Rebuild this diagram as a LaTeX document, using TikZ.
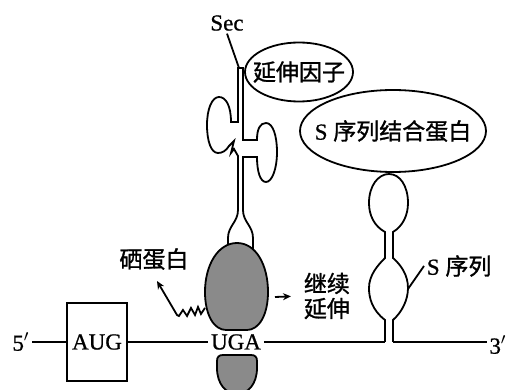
\documentclass[tikz,border=0pt]{standalone}
\usepackage{fontspec}
\setmainfont{Liberation Serif}[RawFeature={embolden=0.8}]
\newfontfamily\cjk{Noto Sans CJK SC}[RawFeature={embolden=1.2}]
\usetikzlibrary{arrows.meta,shapes.geometric,calc}

\begin{document}
\begin{tikzpicture}[
  x=0.5pt,y=-0.5pt,
  font=\fontsize{11.5}{12.5}\selectfont,
  line width=0.9pt,
  >={Stealth[length=4pt,width=3.5pt]},
  lab/.style={inner sep=1pt,align=center},
  cn/.style={lab,font=\fontsize{11.5}{12.5}\selectfont\cjk},
  codon/.style={draw,minimum width=30pt,minimum height=39pt,inner sep=0pt},
  ribo/.style={draw,fill=black!46},
]
\useasboundingbox (0,0) rectangle (511,390);
% mRNA, 5' to 3'
\node[lab]   (five)  at (21,342)  {5$'$};
\node[codon] (aug)   at (97,342)  {AUG};
\node[lab]   (uga)   at (236,342) {UGA};
\node[lab]   (three) at (498,345) {3$'$};
\coordinate (sl) at (385,342);
\coordinate (sr) at (393,342);
\draw (five) -- (aug);
\draw (aug) -- (uga);
\draw (uga.east) -- (sl);
\draw (sr) -- (three.west |- sr);
% Sec-tRNA: stem with the two side loops, flaring into the ribosome
\coordinate (stemtop) at (239,68);
\draw (228,256) -- (228,238) .. controls (228,226) and (238,222) .. (238,210)
  -- (238,156) -- (234,149) -- (231,153) -- (234,141) -- (229,146)
  .. controls (226,151) and (222,153) .. (218,153)
  .. controls (211,153) and (207,141) .. (207,125)
  .. controls (207,109) and (212,97) .. (219,97)
  .. controls (226,97) and (231,106) .. (231,122)
  -- (238,122) -- (238,68) -- (243,68) -- (243,140) -- (257,140)
  .. controls (257,129) and (260,123) .. (266,123)
  .. controls (273,123) and (277,136) .. (277,152)
  .. controls (277,169) and (272,182) .. (266,182)
  .. controls (260,182) and (257,171) .. (257,157)
  -- (243,157) -- (243,210)
  .. controls (243,222) and (253,226) .. (253,238) -- (253,256);
\node[lab] (sec) at (227,23) {Sec};
\draw (sec.south) -- (stemtop);
% proteins: text nodes with their ovals drawn round them
\node[cn] (ef) at (299,72) {延伸因子};
\draw (ef.center) ellipse [x radius=54, y radius=29.5];
\node[lab] (sbp) at (393,131) {S {\cjk 序列结合蛋白}};
\draw (sbp.center) ellipse [x radius=93, y radius=41];
% S sequence hairpin in the 3' region
\draw (sl) -- (385,320) .. controls (372,310) and (369,298) .. (369,288)
  .. controls (369,275) and (378,265) .. (385,258) -- (385,232)
  .. controls (374,226) and (369,215) .. (369,203)
  .. controls (369,186) and (378,174) .. (389,174)
  .. controls (400,174) and (408,186) .. (408,203)
  .. controls (408,215) and (403,226) .. (393,232) -- (393,258)
  .. controls (401,265) and (408,275) .. (408,288)
  .. controls (408,300) and (402,312) .. (393,320) -- (sr);
\node[lab,anchor=west] (sseq) at (424,266) {S {\cjk 序列}};
\coordinate (slobe) at (408,289);
\draw (slobe) -- (sseq.west);
% ribosome, large and small subunit
\draw[ribo] (237,243) .. controls (256,243) and (268,265) .. (268,292)
  .. controls (268,315) and (259,330) .. (247,330) -- (226,330)
  .. controls (214,330) and (205,315) .. (205,292)
  .. controls (205,265) and (218,243) .. (237,243) -- cycle;
\draw[ribo] (217,361) .. controls (217,357) and (219,355) .. (223,355) -- (251,355)
  .. controls (255,355) and (257,357) .. (257,361) -- (257,368)
  .. controls (257,384) and (248,394) .. (237,394)
  .. controls (226,394) and (217,384) .. (217,368) -- cycle;
% growing selenoprotein chain
\node[cn] (sel) at (154,259) {硒蛋白};
\coordinate (selfoot) at (205,308);
\coordinate (seltip) at (157,281);
\draw[->] (selfoot) -- (201,314) -- (198,307) -- (195,315) -- (191,308)
  -- (187,316) -- (183,310) -- (179,316) -- (177,315) -- (seltip);
% elongation goes on
\node[cn,anchor=west] (goon) at (301,296) {继续\\延伸};
\coordinate (gostart) at (275,297);
\draw[->,shorten >=5pt] (gostart) -- (goon.west);
\end{tikzpicture}
\end{document}
